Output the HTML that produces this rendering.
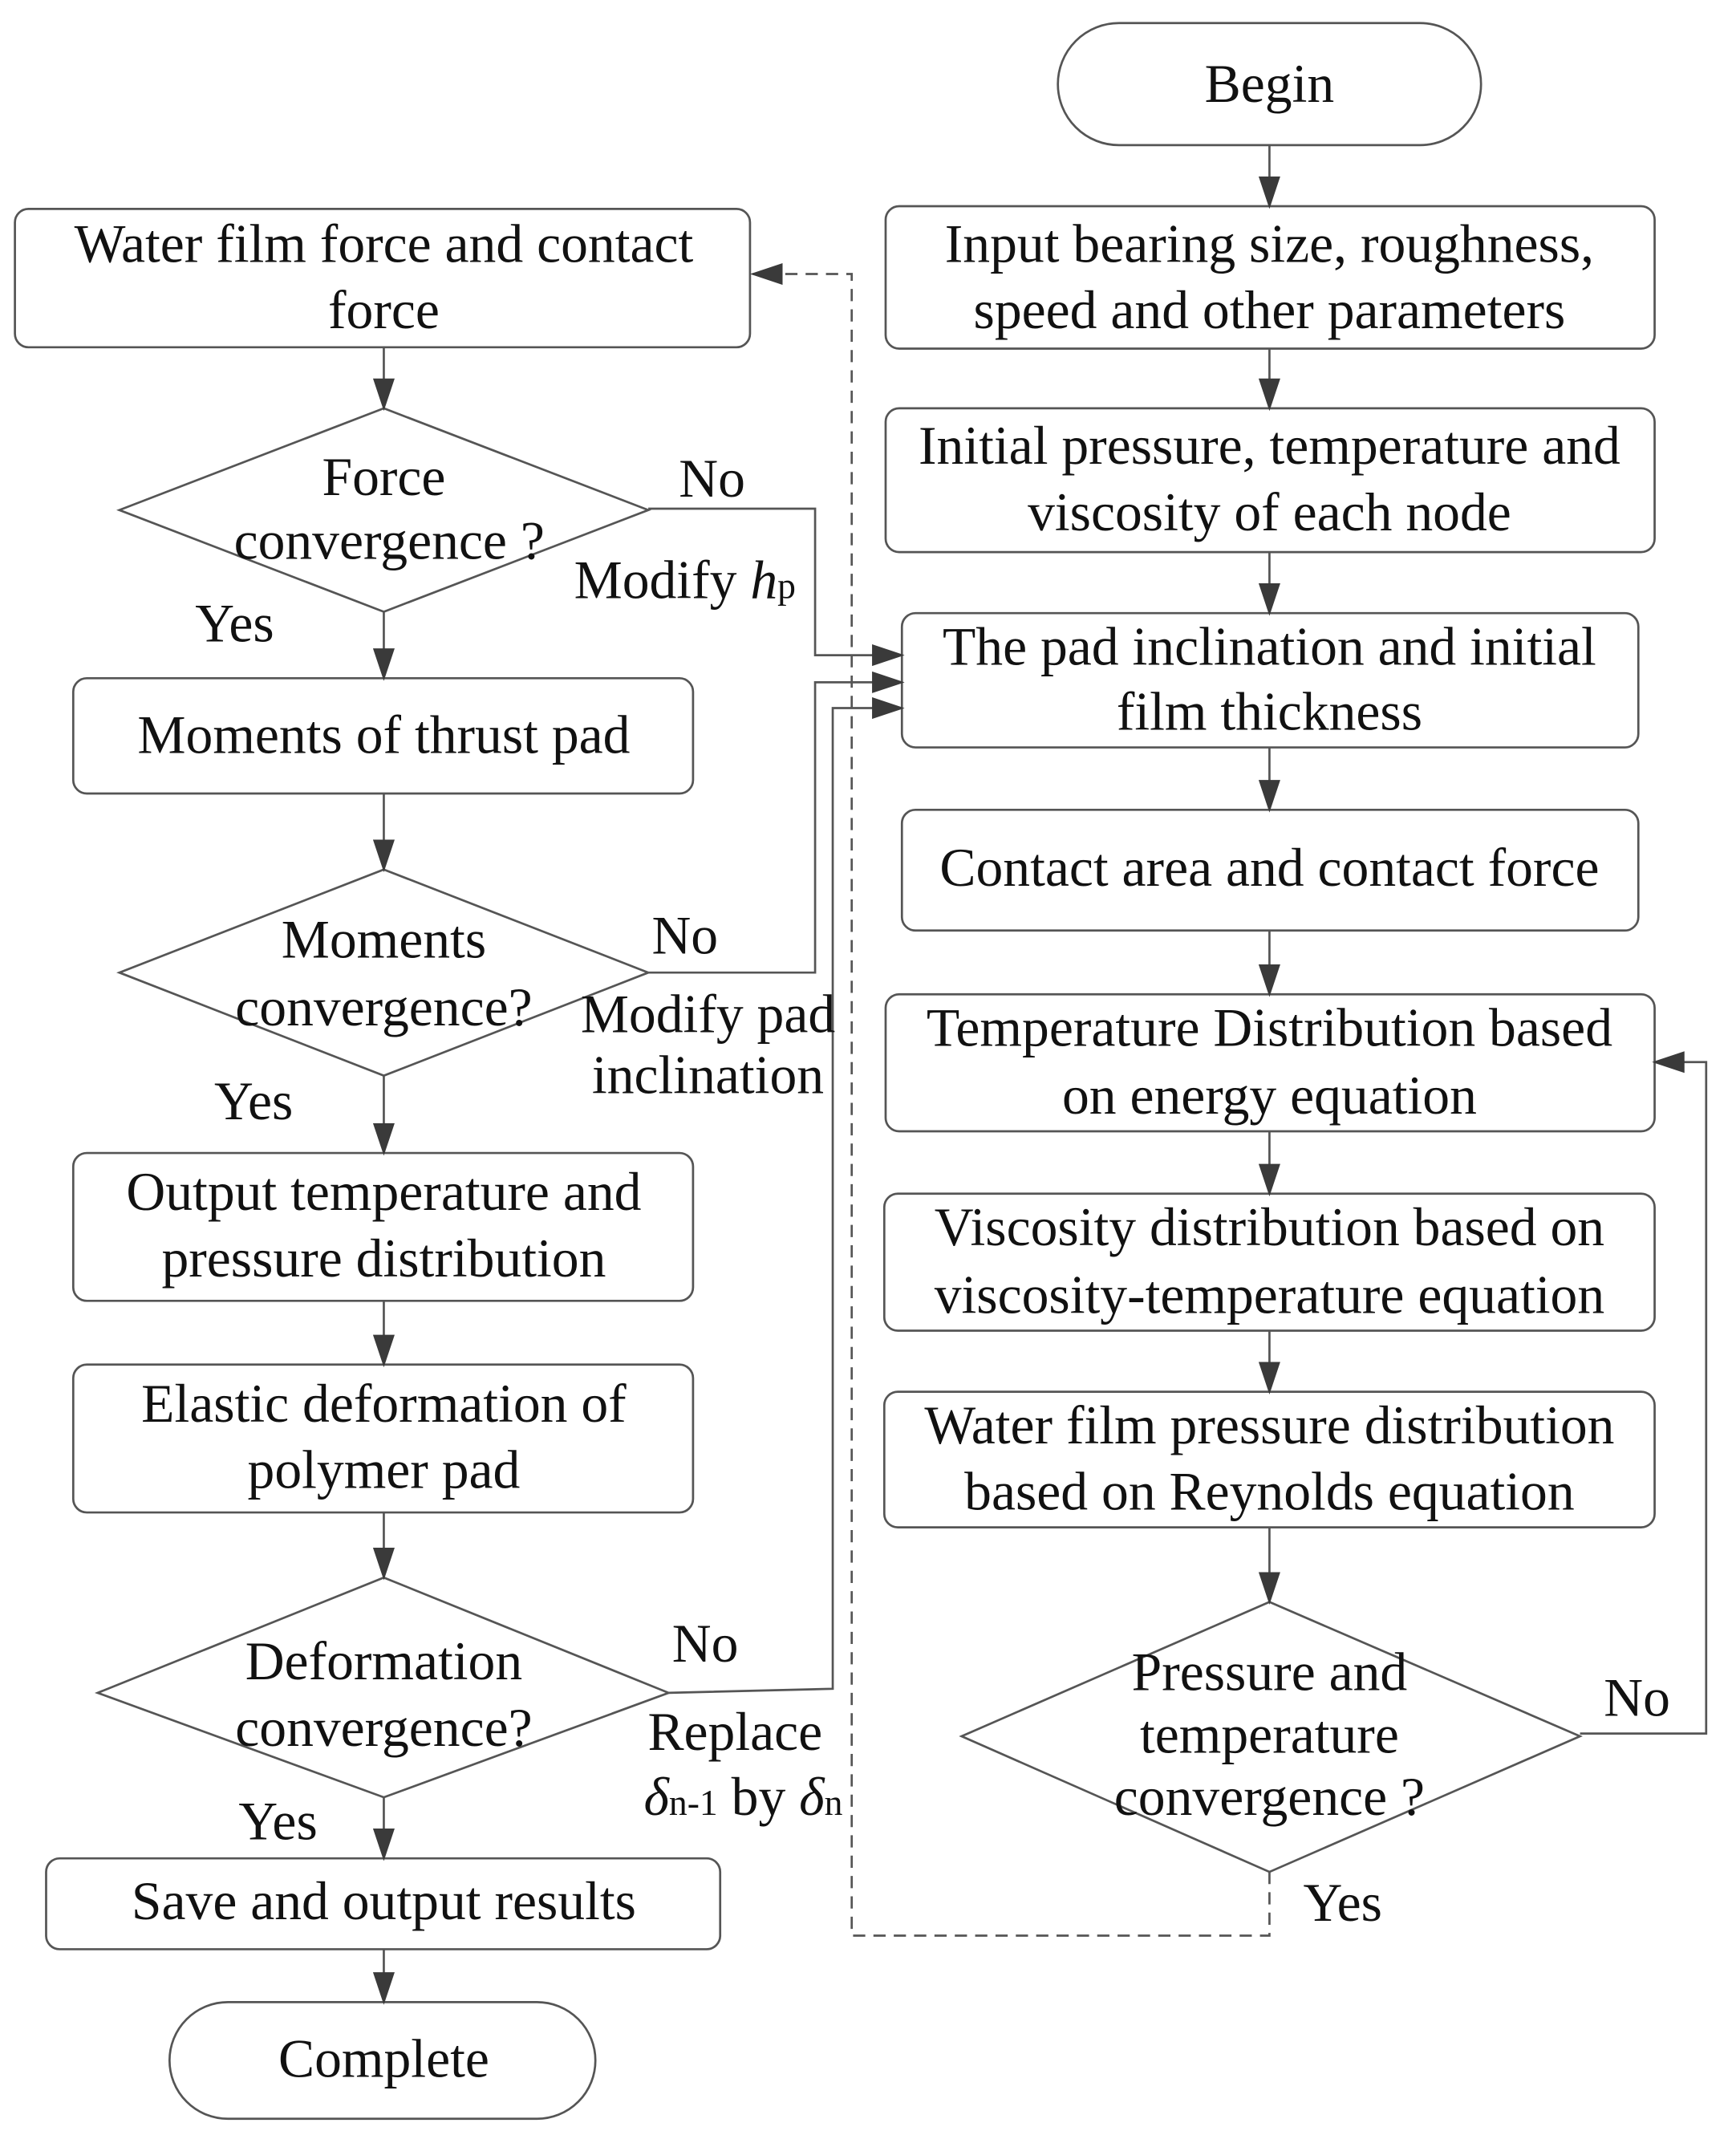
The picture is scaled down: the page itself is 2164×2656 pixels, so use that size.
<!DOCTYPE html>
<html><head><meta charset="utf-8"><style>
html,body{margin:0;padding:0;background:#fff;}
svg{display:block;}
text{font-family:"Liberation Serif",serif;font-size:40px;fill:#111;text-anchor:middle;}
</style></head><body>
<svg width="2164" height="2656" viewBox="0 0 1280 1571" xmlns="http://www.w3.org/2000/svg">
<defs>
<marker id="a" markerWidth="24" markerHeight="16" refX="22" refY="8" orient="auto" markerUnits="userSpaceOnUse">
<path d="M0,0 L24,8 L0,16 Z" fill="#3a3a3a"/></marker>
</defs>
<g fill="none" stroke="#555" stroke-width="1.6">
<rect x="780" y="17" width="312" height="90" rx="45"/>
<rect x="653" y="152" width="567" height="105" rx="10"/>
<rect x="653" y="301" width="567" height="106" rx="10"/>
<rect x="665" y="452" width="543" height="99" rx="10"/>
<rect x="665" y="597" width="543" height="89" rx="10"/>
<rect x="653" y="733" width="567" height="101" rx="10"/>
<rect x="652" y="880" width="568" height="101" rx="10"/>
<rect x="652" y="1026" width="568" height="100" rx="10"/>
<path d="M936,1181 L1165,1280 L936,1380 L709,1280 Z"/>
<rect x="11" y="154" width="542" height="102" rx="10"/>
<path d="M283,301 L478,376 L283,451 L88,376 Z"/>
<rect x="54" y="500" width="457" height="85" rx="10"/>
<path d="M283,641 L478,717 L283,793 L88,717 Z"/>
<rect x="54" y="850" width="457" height="109" rx="10"/>
<rect x="54" y="1006" width="457" height="109" rx="10"/>
<path d="M283,1163 L493,1248 L283,1325 L72,1248 Z"/>
<rect x="34" y="1370" width="497" height="67" rx="10"/>
<rect x="125" y="1476" width="314" height="86" rx="43"/>
</g>
<g fill="none" stroke="#555" stroke-width="1.6">
<line x1="936" y1="107" x2="936" y2="152" marker-end="url(#a)"/>
<line x1="936" y1="257" x2="936" y2="301" marker-end="url(#a)"/>
<line x1="936" y1="407" x2="936" y2="452" marker-end="url(#a)"/>
<line x1="936" y1="551" x2="936" y2="597" marker-end="url(#a)"/>
<line x1="936" y1="686" x2="936" y2="733" marker-end="url(#a)"/>
<line x1="936" y1="834" x2="936" y2="880" marker-end="url(#a)"/>
<line x1="936" y1="981" x2="936" y2="1026" marker-end="url(#a)"/>
<line x1="936" y1="1126" x2="936" y2="1181" marker-end="url(#a)"/>
<polyline points="1165,1278 1258,1278 1258,783 1220,783" marker-end="url(#a)"/>
<polyline points="936,1380 936,1427 628,1427 628,202 555,202" stroke-dasharray="9,6" marker-end="url(#a)"/>
<line x1="283" y1="256" x2="283" y2="301" marker-end="url(#a)"/>
<line x1="283" y1="451" x2="283" y2="500" marker-end="url(#a)"/>
<line x1="283" y1="585" x2="283" y2="641" marker-end="url(#a)"/>
<line x1="283" y1="793" x2="283" y2="850" marker-end="url(#a)"/>
<line x1="283" y1="959" x2="283" y2="1006" marker-end="url(#a)"/>
<line x1="283" y1="1115" x2="283" y2="1163" marker-end="url(#a)"/>
<line x1="283" y1="1325" x2="283" y2="1370" marker-end="url(#a)"/>
<line x1="283" y1="1437" x2="283" y2="1476" marker-end="url(#a)"/>
<polyline points="478,375 601,375 601,483 665,483" marker-end="url(#a)"/>
<polyline points="478,717 601,717 601,503 665,503" marker-end="url(#a)"/>
<polyline points="493,1248 614,1245 614,522 665,522" marker-end="url(#a)"/>
</g>
<g>
<text x="936" y="75">Begin</text>
<text x="936" y="193">Input bearing size, roughness,</text>
<text x="936" y="242">speed and other parameters</text>
<text x="936" y="342">Initial pressure, temperature and</text>
<text x="936" y="391">viscosity of each node</text>
<text x="936" y="490">The pad inclination and initial</text>
<text x="936" y="538">film thickness</text>
<text x="936" y="653">Contact area and contact force</text>
<text x="936" y="771">Temperature Distribution based</text>
<text x="936" y="821">on energy equation</text>
<text x="936" y="918">Viscosity distribution based on</text>
<text x="936" y="968">viscosity-temperature equation</text>
<text x="936" y="1064">Water film pressure distribution</text>
<text x="936" y="1113">based on Reynolds equation</text>
<text x="936" y="1246">Pressure and</text>
<text x="936" y="1292">temperature</text>
<text x="936" y="1338">convergence ?</text>
<text x="1207" y="1265">No</text>
<text x="990" y="1416">Yes</text>
<text x="283" y="193">Water film force and contact</text>
<text x="283" y="242">force</text>
<text x="283" y="365">Force</text>
<text x="287" y="412">convergence ?</text>
<text x="525" y="366">No</text>
<text x="505" y="441">Modify <tspan font-style="italic">h</tspan><tspan font-size="27">p</tspan></text>
<text x="173" y="473">Yes</text>
<text x="283" y="555">Moments of thrust pad</text>
<text x="283" y="706">Moments</text>
<text x="283" y="756">convergence?</text>
<text x="505" y="703">No</text>
<text x="522" y="761">Modify pad</text>
<text x="522" y="806">inclination</text>
<text x="187" y="825">Yes</text>
<text x="283" y="892">Output temperature and</text>
<text x="283" y="941">pressure distribution</text>
<text x="283" y="1048">Elastic deformation of</text>
<text x="283" y="1097">polymer pad</text>
<text x="283" y="1238">Deformation</text>
<text x="283" y="1287">convergence?</text>
<text x="520" y="1225">No</text>
<text x="542" y="1290">Replace</text>
<text x="548" y="1338"><tspan font-style="italic">δ</tspan><tspan font-size="27">n-1</tspan>  by <tspan font-style="italic">δ</tspan><tspan font-size="27">n</tspan></text>
<text x="205" y="1356">Yes</text>
<text x="283" y="1415">Save and output results</text>
<text x="283" y="1531">Complete</text>
</g>
</svg>
</body></html>
